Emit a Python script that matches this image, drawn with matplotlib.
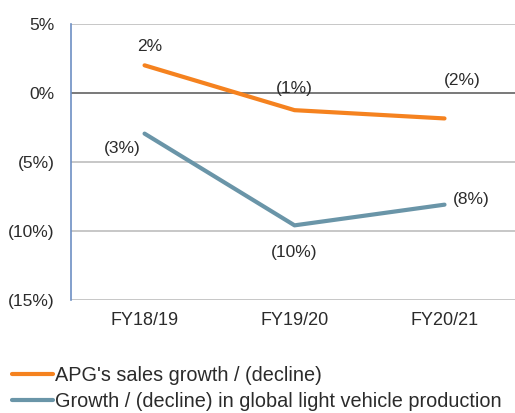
import matplotlib.pyplot as plt

# данні з графіка
years = ['FY18/19', 'FY19/20', 'FY20/21']
apg_growth = [2.0, -1.25, -1.85]
vehicle_growth = [-2.95, -9.6, -8.1]
apg_labels = ['2%', '(1%)', '(2%)']
vehicle_labels = ['(3%)', '(10%)', '(8%)']
y_ticks = [5, 0, -5, -10, -15]
y_tick_labels = ['5%', '0%', '(5%)', '(10%)', '(15%)']

orange = '#f5821f'
steel = '#6a95a8'
txt = '#2b2b2b'
fs = 12.5

plt.rcParams['font.family'] = ['Liberation Sans', 'DejaVu Sans']

fig = plt.figure(figsize=(5.15, 4.13), dpi=100)
ax = fig.add_axes([0.138, 0.274, 0.862, 0.668])

x = list(range(len(years)))
for y in [5, -5, -10, -15]:
    ax.axhline(y, color='#bdbdbd', lw=1.2, zorder=1)
ax.axhline(0, color='#6e6e6e', lw=1.3, zorder=1)

ax.plot(x, apg_growth, color=orange, lw=3, solid_capstyle='round',
        label="APG's sales growth / (decline)", zorder=3)
ax.plot(x, vehicle_growth, color=steel, lw=3, solid_capstyle='round',
        label='Growth / (decline) in global light vehicle production', zorder=3)

# підписи значень (зсув у пікселях)
apg_off = [(5, 19), (0, 22), (18, 38)]
veh_off = [(-22, -15), (0, -27), (27, 5)]
for i in x:
    ax.annotate(apg_labels[i], (i, apg_growth[i]), xytext=apg_off[i],
                textcoords='offset pixels', ha='center', va='center',
                fontsize=fs, color=txt)
    ax.annotate(vehicle_labels[i], (i, vehicle_growth[i]), xytext=veh_off[i],
                textcoords='offset pixels', ha='center', va='center',
                fontsize=fs, color=txt)

ax.set_xlim(-0.49, 2.47)
ax.set_ylim(-15, 5)
ax.set_yticks(y_ticks)
ax.set_yticklabels(y_tick_labels)
ax.set_xticks(x)
ax.set_xticklabels(years, fontsize=13)
ax.tick_params(length=0, colors=txt)
ax.tick_params(axis='y', pad=12, labelsize=fs)
ax.tick_params(axis='x', pad=9)

for s in ['top', 'right', 'bottom']:
    ax.spines[s].set_visible(False)
ax.spines['left'].set_color('#6d8fc4')
ax.spines['left'].set_linewidth(1.2)

fig.legend(loc='upper left', bbox_to_anchor=(0.007, 0.133), frameon=False,
           fontsize=14.3, handlelength=2.1, handletextpad=0.07,
           labelspacing=0.36, borderaxespad=0, labelcolor=txt)

fig.savefig('out.png', dpi=100)
